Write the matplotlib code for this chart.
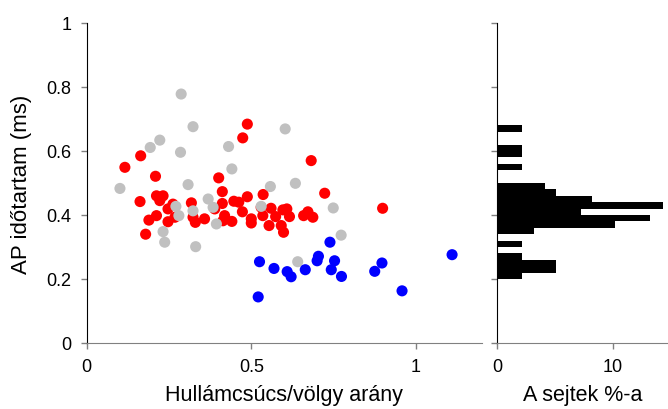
import matplotlib
matplotlib.use("Agg")
import matplotlib.pyplot as plt
import numpy as np

plt.rcParams['font.family'] = ['Liberation Sans', 'DejaVu Sans']

# Red group
red_x = [0.488, 0.474, 0.164, 0.116, 0.209, 0.401, 0.412, 0.212, 0.232, 0.222,
         0.162, 0.262, 0.247, 0.212, 0.189, 0.247, 0.268, 0.179, 0.318, 0.323,
         0.330, 0.358, 0.389, 0.412, 0.447, 0.462, 0.473, 0.419, 0.414, 0.441,
         0.500, 0.500, 0.488, 0.536, 0.530, 0.535, 0.560, 0.574, 0.554, 0.591,
         0.598, 0.596, 0.608, 0.616, 0.659, 0.672, 0.687, 0.682, 0.723, 0.899]
red_y = [0.684, 0.641, 0.585, 0.549, 0.521, 0.516, 0.473, 0.460, 0.460, 0.445,
         0.442, 0.434, 0.419, 0.398, 0.384, 0.379, 0.393, 0.340, 0.438, 0.393,
         0.377, 0.388, 0.419, 0.436, 0.443, 0.440, 0.410, 0.398, 0.382, 0.380,
         0.388, 0.375, 0.457, 0.464, 0.424, 0.398, 0.421, 0.395, 0.367, 0.367,
         0.346, 0.416, 0.419, 0.395, 0.398, 0.410, 0.393, 0.570, 0.468, 0.421]

# Gray group
gray_x = [0.287, 0.323, 0.222, 0.193, 0.285, 0.603, 0.431, 0.441, 0.308, 0.101,
          0.558, 0.634, 0.369, 0.384, 0.271, 0.280, 0.323, 0.394, 0.530, 0.232,
          0.237, 0.331, 0.641, 0.749, 0.773]
gray_y = [0.778, 0.676, 0.634, 0.611, 0.596, 0.669, 0.614, 0.544, 0.495, 0.483,
          0.489, 0.499, 0.450, 0.424, 0.427, 0.398, 0.413, 0.372, 0.427, 0.348,
          0.315, 0.301, 0.254, 0.422, 0.337]

# Blue group
blue_x = [0.739, 0.525, 0.569, 0.609, 0.621, 0.664, 0.704, 0.700, 0.753, 0.743,
          0.774, 0.875, 0.897, 0.521, 1.110, 0.958]
blue_y = [0.315, 0.254, 0.233, 0.223, 0.207, 0.229, 0.271, 0.257, 0.257, 0.229,
          0.208, 0.224, 0.250, 0.144, 0.276, 0.163]

# Histogram (% of cells) per 0.02 bin of AP duration
hist_bin_lo = [0.20, 0.22, 0.24, 0.26, 0.30, 0.34, 0.36, 0.38, 0.40, 0.42,
               0.44, 0.46, 0.48, 0.54, 0.58, 0.60, 0.66]
hist_pct = [2.1, 5.1, 5.1, 2.1, 2.1, 3.2, 10.2, 13.2, 7.2, 14.3,
            8.2, 5.1, 4.1, 2.1, 2.1, 2.1, 2.1]

fig = plt.figure(figsize=(6.68, 4.10), dpi=100)
ax = fig.add_axes([86.7/668, 1-344/410, (481.7-86.7)/668, 320/410])
axh = fig.add_axes([497.5/668, 1-344/410, (668-497.5)/668, 320/410])

ms = 64
ax.scatter(red_x, red_y, s=ms, color='#ff0000', edgecolors='none', zorder=3)
ax.scatter(gray_x, gray_y, s=ms, color='#c0c0c0', edgecolors='none', zorder=4)
ax.scatter(blue_x, blue_y, s=ms, color='#0000ff', edgecolors='none', zorder=5)

ax.set_xlim(0, 1.2)
ax.set_ylim(0, 1)
ax.set_xticks([0, 0.5, 1])
ax.set_xticklabels(['0', '0.5', '1'])
ax.set_yticks([0, 0.2, 0.4, 0.6, 0.8, 1])
ax.set_yticklabels(['0', '0.2', '0.4', '0.6', '0.8', '1'])
for s in ['top', 'right']:
    ax.spines[s].set_visible(False)
ax.spines['left'].set_color('black')
ax.spines['bottom'].set_color('#808080')
ax.tick_params(direction='out', length=4, width=1, color='#808080', labelsize=13, pad=7)
ax.set_xlabel('Hullámcsúcs/völgy arány', fontsize=15.5, labelpad=6)
ax.set_ylabel('AP időtartam (ms)', fontsize=16, labelpad=10)

axh.barh(hist_bin_lo, hist_pct, height=0.02, align='edge', color='black', edgecolor='none')
axh.set_ylim(0, 1)
axh.set_xlim(0, 14.76)
axh.set_xticks([0, 10])
axh.set_xticklabels(['0', '10'])
axh.set_yticks([0, 0.2, 0.4, 0.6, 0.8, 1])
axh.set_yticklabels([])
for s in ['top', 'right']:
    axh.spines[s].set_visible(False)
axh.spines['left'].set_color('black')
axh.spines['bottom'].set_color('#808080')
axh.tick_params(direction='out', length=4, width=1, color='#808080', labelsize=13, pad=7)
axh.set_xlabel('A sejtek %-a', fontsize=15.5, labelpad=6)

fig.savefig('out.png', dpi=100)
